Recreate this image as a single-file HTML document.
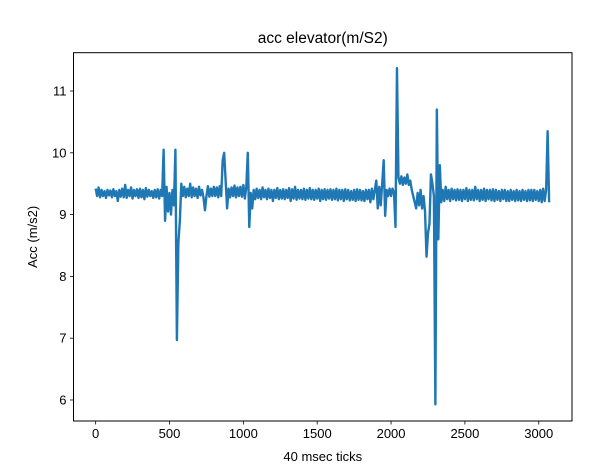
<!DOCTYPE html>
<html><head><meta charset="utf-8"><style>
html,body{margin:0;padding:0;background:#fff;}
svg{display:block;font-family:"Liberation Sans","DejaVu Sans",sans-serif;}
</style></head><body>
<svg id="chart" width="609" height="466"></svg>
<script>
const xStep = 10;
const ys = [
9.42,9.30,9.44,9.28,9.40,9.30,9.38,9.27,9.40,9.31,9.39,9.28,9.41,9.30,9.38,9.22,9.40,9.29,9.42,9.28,
9.48,9.27,9.40,9.30,9.44,9.26,9.40,9.30,9.41,9.27,9.42,9.28,9.40,9.25,9.43,9.29,9.40,9.30,9.38,9.27,
9.40,9.28,9.41,9.26,9.40,9.30,10.05,8.90,9.45,9.05,9.35,9.00,9.40,9.15,10.05,6.97,8.55,8.90,9.50,9.30,
9.45,9.28,9.42,9.30,9.50,9.28,9.44,9.30,9.42,9.27,9.45,9.31,9.40,9.28,9.07,9.30,9.46,9.29,9.42,9.30,
9.45,9.30,9.44,9.28,9.46,9.30,9.88,10.00,9.55,9.10,9.42,9.28,9.44,9.30,9.47,9.28,9.44,9.30,9.45,9.29,
9.48,9.26,9.45,10.00,8.80,9.35,9.10,9.40,9.25,9.42,9.27,9.40,9.25,9.44,9.28,9.40,9.25,9.42,9.27,9.40,
9.22,9.40,9.27,9.43,9.25,9.40,9.26,9.41,9.25,9.40,9.27,9.43,9.22,9.41,9.26,9.45,9.24,9.40,9.26,9.40,
9.25,9.42,9.24,9.40,9.26,9.43,9.25,9.40,9.24,9.40,9.26,9.42,9.22,9.40,9.25,9.41,9.24,9.40,9.26,9.41,
9.24,9.40,9.25,9.42,9.23,9.40,9.25,9.40,9.22,9.41,9.25,9.40,9.23,9.38,9.24,9.40,9.22,9.41,9.24,9.40,
9.23,9.38,9.22,9.40,9.25,9.40,9.20,9.42,9.25,9.40,9.55,9.10,9.45,9.15,9.50,9.88,8.98,9.40,9.30,9.42,
9.30,9.42,9.35,8.80,11.37,9.60,9.50,9.62,9.48,9.60,9.50,9.65,9.48,9.55,9.40,9.30,9.20,9.10,9.35,9.15,
9.40,9.10,9.30,9.05,8.32,8.70,8.85,9.65,9.50,9.30,5.93,10.70,8.60,9.80,9.20,9.40,9.22,9.45,9.25,9.40,
9.22,9.42,9.25,9.40,9.23,9.41,9.24,9.40,9.22,9.40,9.25,9.43,9.22,9.40,9.24,9.40,9.23,9.45,9.25,9.40,
9.22,9.40,9.24,9.42,9.22,9.40,9.25,9.40,9.23,9.41,9.22,9.40,9.24,9.38,9.22,9.40,9.25,9.40,9.22,9.38,
9.22,9.40,9.24,9.38,9.22,9.40,9.23,9.38,9.22,9.40,9.24,9.38,9.22,9.40,9.23,9.40,9.22,9.40,9.24,9.38,
9.22,9.40,9.20,9.42,9.22,9.40,10.35,9.20
];
const xTicks = [0,500,1000,1500,2000,2500,3000];
const yTicks = [6,7,8,9,10,11];

const NS = "http://www.w3.org/2000/svg";
const svg = document.getElementById('chart');
const L=73.5, R=572, T=52.7, B=421;
const xMin=-150, xMax=3225, yMin=5.66, yMax=11.62;
const sx = v => L + (v - xMin) / (xMax - xMin) * (R - L);
const sy = v => B - (v - yMin) / (yMax - yMin) * (B - T);
function mk(tag, attrs){const e=document.createElementNS(NS,tag);for(const k in attrs)e.setAttribute(k,attrs[k]);svg.appendChild(e);return e;}

let d = "";
ys.forEach((v,i)=>{d += (i?"L":"M") + sx(i*xStep).toFixed(2) + "," + sy(v).toFixed(2);});
const line = mk('path',{d:d,fill:'none',stroke:'#1f77b4','stroke-width':2.4,'stroke-linejoin':'round'});



const frame = mk('rect',{x:L,y:T,width:R-L,height:B-T,fill:'none',stroke:'#000','stroke-width':1});



xTicks.forEach(t=>{
  const x=sx(t);
  const tk = mk('line',{x1:x,x2:x,y1:B,y2:B+3.5,stroke:'#000','stroke-width':0.8});
  
  
  const tx = mk('text',{x:x,y:B+17,'text-anchor':'middle','font-size':13,fill:'#000'});
  tx.textContent = t;
  
  
});
yTicks.forEach(t=>{
  const y=sy(t);
  const tk = mk('line',{x1:L-3.5,x2:L,y1:y,y2:y,stroke:'#000','stroke-width':0.8});
  
  
  const tx = mk('text',{x:L-7,y:y+4.5,'text-anchor':'end','font-size':13,fill:'#000'});
  tx.textContent = t;
  
  
});

const title = mk('text',{x:(L+R)/2,y:43,'text-anchor':'middle','font-size':15.5,fill:'#000'});
title.textContent = "acc elevator(m/S2)";



const xl = mk('text',{x:(L+R)/2,y:461,'text-anchor':'middle','font-size':13,fill:'#000'});
xl.textContent = "40 msec ticks";



const yl = mk('text',{x:0,y:0,'text-anchor':'middle','font-size':13,fill:'#000',transform:'translate(37,'+((T+B)/2)+') rotate(-90)'});
yl.textContent = "Acc (m/s2)";


</script>
</body></html>
